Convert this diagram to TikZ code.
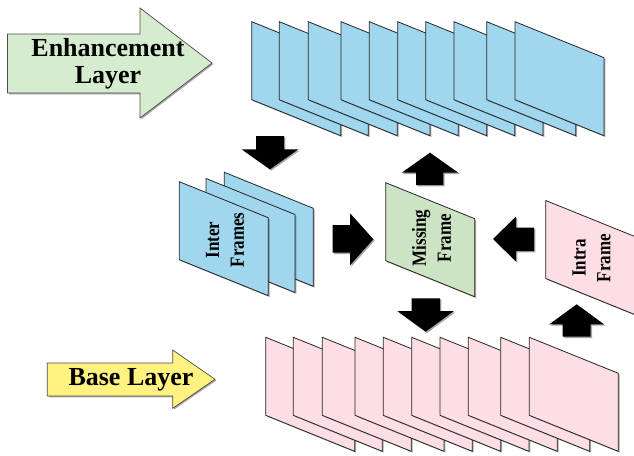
\documentclass[tikz,border=0pt]{standalone}
\usepackage{fontspec}
\setmainfont{Liberation Serif}
\usetikzlibrary{shadows}

\definecolor{frblue}{RGB}{160,215,238}
\definecolor{frpink}{RGB}{253,222,228}
\definecolor{frgreen}{RGB}{204,228,196}
\definecolor{argreen}{RGB}{214,236,206}
\definecolor{aryellow}{RGB}{255,242,128}

\tikzset{
  softshadow/.style={drop shadow={shadow xshift=1.3pt, shadow yshift=-1.3pt, fill=black, opacity=0.35}},
  framebox/.style={draw=black!85, line width=0.8pt, line join=miter, softshadow},
  blockarrow/.style={fill=black, softshadow},
  layerarrow/.style={draw=black!70, line width=0.7pt, softshadow},
  layertext/.style={font=\fontsize{26}{27}\selectfont\bfseries, align=center, inner sep=0pt},
  frametext/.style={font=\fontsize{17}{21}\selectfont\bfseries, align=center, inner sep=0pt,
    rotate=90, yscale=1.18, transform shape},
}

% one slanted frame: top-left corner, fill colour
\newcommand\stackframe[3]{%
  \path[framebox, fill=#3] (#1,#2) -- ++(89,36) -- ++(0,78) -- ++(-89,-36) -- cycle;}

\begin{document}
\begin{tikzpicture}[x=1pt, y=-1pt]
\useasboundingbox (0,0) rectangle (634,455);

% enhancement-layer stack
\foreach \fx in {251.7,279.3,308.3,341,369.3,397.7,425.7,454,486.7,515}
  {\stackframe{\fx}{21.7}{frblue}}

% base-layer stack
\foreach \fx in {265.7,293.3,322.3,355,383.3,411.7,440,468.3,500.7,529.3}
  {\stackframe{\fx}{337.3}{frpink}}

% inter frames (back to front)
\stackframe{224.3}{172.3}{frblue}
\stackframe{206}{178.5}{frblue}
\stackframe{179.3}{181.7}{frblue}

% missing frame and intra frame
\stackframe{385.7}{182.7}{frgreen}
\stackframe{545.7}{200.5}{frpink}

% layer arrows
\path[layerarrow, fill=argreen]
  (7.5,34) -- (140,34) -- (140,8) -- (212,63) -- (140,118) -- (140,93) -- (7.5,93) -- cycle;
\path[layerarrow, fill=aryellow]
  (47.3,363) -- (172.7,363) -- (172.7,350) -- (215,379.3) -- (172.7,408.3) -- (172.7,396) -- (47.3,396) -- cycle;

% flow arrows
\path[blockarrow] (256,136) -- (284,136) -- (284,149.3) -- (298.3,149.3) -- (270,169.3)
  -- (241.7,149.3) -- (256,149.3) -- cycle;
\path[blockarrow] (416,185) -- (443.3,185) -- (443.3,172.7) -- (458.3,172.7) -- (430,152.7)
  -- (401.7,172.7) -- (416,172.7) -- cycle;
\path[blockarrow] (332.7,225) -- (350,225) -- (350,213.3) -- (373.3,239.3) -- (350,265.3)
  -- (350,252.7) -- (332.7,252.7) -- cycle;
\path[blockarrow] (534,227.5) -- (516,227.5) -- (516,216.5) -- (493,239) -- (516,261.5)
  -- (516,251) -- (534,251) -- cycle;
\path[blockarrow] (411.7,298.3) -- (440,298.3) -- (440,311) -- (454,311) -- (425.7,331.7)
  -- (397.3,311) -- (411.7,311) -- cycle;
\path[blockarrow] (562.7,336.7) -- (590.7,336.7) -- (590.7,324.3) -- (604,324.3) -- (576.7,304.3)
  -- (549.3,324.3) -- (562.7,324.3) -- cycle;

% labels
\node[layertext] (enhtxt) at (108,63.5) {Enhancement\\Layer};
\node[layertext] (basetxt) at (131,380) {Base Layer};
\node[frametext] (intertxt) at (225,240) {Inter\\Frames};
\node[frametext] (misstxt) at (431.5,238) {Missing\\Frame};
\node[frametext] (intratxt) at (591.5,258) {Intra\\Frame};
\end{tikzpicture}
\end{document}
